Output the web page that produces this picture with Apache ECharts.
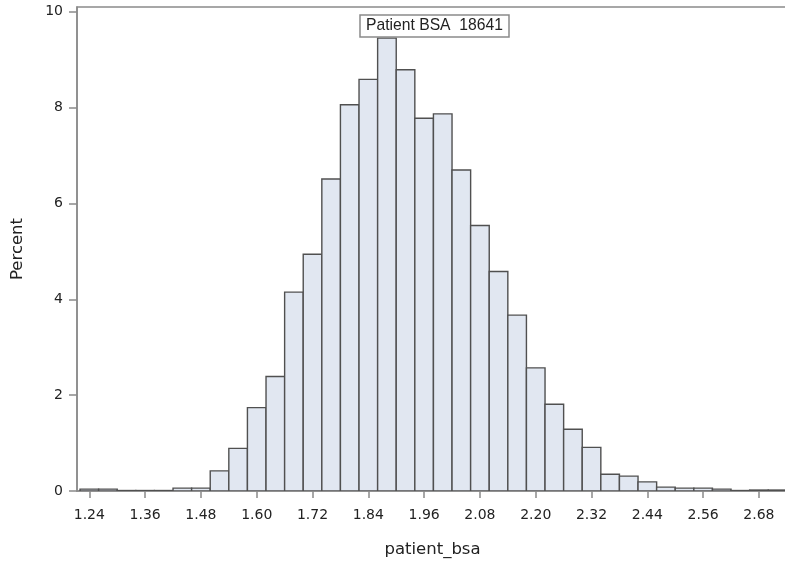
<!DOCTYPE html>
<html>
<head>
<meta charset="utf-8">
<script src="https://cdn.jsdelivr.net/npm/echarts@6/dist/echarts.min.js"></script>
<style>
  html, body { margin: 0; padding: 0; background: #fff; }
  #chart { width: 785px; height: 563px; }
</style>
</head>
<body>
<div id="chart"></div>
<script>
// bin centres (width 0.04) and percent per bin
var binWidth = 0.04;
var binCenters = [1.24, 1.28, 1.32, 1.36, 1.40, 1.44, 1.48, 1.52, 1.56, 1.60,
  1.64, 1.68, 1.72, 1.76, 1.80, 1.84, 1.88, 1.92, 1.96, 2.00,
  2.04, 2.08, 2.12, 2.16, 2.20, 2.24, 2.28, 2.32, 2.36, 2.40,
  2.44, 2.48, 2.52, 2.56, 2.60, 2.64, 2.68, 2.72];
var percents = [0.04, 0.04, 0.01, 0.01, 0.01, 0.06, 0.06, 0.42, 0.89, 1.74,
  2.39, 4.15, 4.94, 6.51, 8.06, 8.59, 9.45, 8.79, 7.78, 7.87,
  6.70, 5.54, 4.58, 3.67, 2.57, 1.81, 1.29, 0.91, 0.35, 0.31,
  0.19, 0.08, 0.06, 0.06, 0.04, 0.01, 0.02, 0.02];
var xTicks = [1.24, 1.36, 1.48, 1.60, 1.72, 1.84, 1.96, 2.08, 2.20, 2.32, 2.44, 2.56, 2.68];
var yTicks = [0, 2, 4, 6, 8, 10];
var insetLabel = "Patient BSA  18641";

(function () {
  var myChart = echarts.init(document.getElementById("chart"));

  var axisGray = "#8a8a8a";
  var tickFont = "DejaVu Sans";
  var textFont = "Liberation Sans";

  var data = binCenters.map(function (c, i) {
    return [c, percents[i]];
  });

  var option = {
    animation: false,
    title: {
      text: insetLabel,
      left: 360,
      top: 15,
      padding: [3, 6],
      borderColor: "#8a8a8a",
      borderWidth: 1.5,
      backgroundColor: "#fff",
      textStyle: {
        fontFamily: textFont,
        fontSize: 15.7,
        fontWeight: "normal",
        color: "#222"
      }
    },
    grid: {
      left: 77,
      top: 7,
      right: -3,
      bottom: 72,
      show: true,
      borderColor: axisGray,
      borderWidth: 1.5,
      containLabel: false,
      outerBoundsMode: "none"
    },
    xAxis: {
      type: "value",
      min: 1.2135,
      max: 2.7425,
      name: "patient_bsa",
      nameLocation: "middle",
      nameGap: 50,
      nameTextStyle: { fontFamily: tickFont, fontSize: 16.5, color: "#222" },
      axisLine: { show: true, lineStyle: { color: axisGray, width: 1.5 } },
      axisTick: {
        show: true,
        length: 7,
        lineStyle: { color: axisGray, width: 1.5 },
        customValues: xTicks
      },
      axisLabel: {
        customValues: xTicks,
        margin: 17,
        fontFamily: tickFont,
        fontSize: 14,
        color: "#222",
        formatter: function (v) { return v.toFixed(2); }
      },
      splitLine: { show: false }
    },
    yAxis: {
      type: "value",
      min: 0,
      max: 10.1,
      name: "Percent",
      nameLocation: "middle",
      nameGap: 51,
      nameTextStyle: { fontFamily: tickFont, fontSize: 16.5, color: "#222" },
      axisLine: { show: true, lineStyle: { color: axisGray, width: 1.5 } },
      axisTick: {
        show: true,
        length: 8,
        lineStyle: { color: axisGray, width: 1.5 },
        customValues: yTicks
      },
      axisLabel: {
        customValues: yTicks,
        margin: 14,
        fontFamily: tickFont,
        fontSize: 14,
        color: "#222"
      },
      splitLine: { show: false }
    },
    series: [
      {
        type: "custom",
        clip: true,
        data: data,
        renderItem: function (params, api) {
          var c = api.value(0);
          var v = api.value(1);
          var p0 = api.coord([c - binWidth / 2, v]);
          var p1 = api.coord([c + binWidth / 2, 0]);
          return {
            type: "rect",
            shape: { x: p0[0], y: p0[1], width: p1[0] - p0[0], height: p1[1] - p0[1] },
            style: { fill: "#e1e7f1", stroke: "#505050", lineWidth: 1.4 }
          };
        }
      }
    ]
  };

  myChart.setOption(option);
  window.addEventListener("resize", function () {
    myChart.resize();
  });
})();
</script>
</body>
</html>
